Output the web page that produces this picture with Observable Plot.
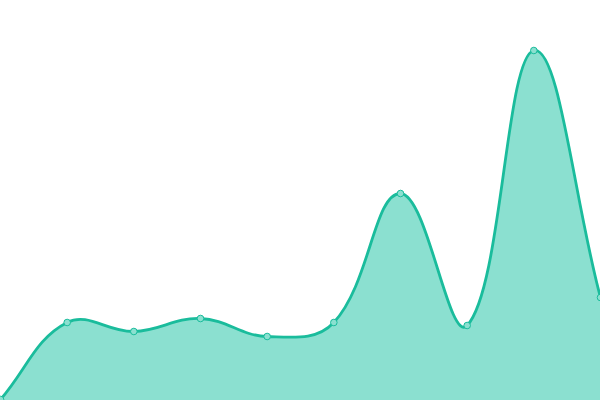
<!DOCTYPE html>
<html><head><meta charset="utf-8">
<script src="https://cdn.jsdelivr.net/npm/d3@7"></script>
<script src="https://cdn.jsdelivr.net/npm/@observablehq/plot@0.6"></script>
<style>body{margin:0;background:#fff}</style>
</head><body><div id="chart"></div>
<script>
const xs = [0,1,2,3,4,5,6,7,8,9];
const values = [1,78,69,82,64,78,207,75,350,103];
const data = xs.map((x,i)=>({x, y: values[i]}));

// Spline curve with tension (bezier control points from neighbouring points)
function splineCurve(context) {
  return {
    _line: undefined,
    areaStart() { this._line = 0; },
    areaEnd() { this._line = NaN; },
    lineStart() { this._pts = []; },
    point(x, y) { this._pts.push([+x, +y]); },
    lineEnd() {
      const p = this._pts, n = p.length, c = context, t = 0.4;
      if (n) {
        if (this._line) c.lineTo(p[0][0], p[0][1]); else c.moveTo(p[0][0], p[0][1]);
        if (n === 2) c.lineTo(p[1][0], p[1][1]);
        else if (n > 2) {
          const cps = p.map((cur, i) => {
            const prev = p[i - 1] || cur, next = p[i + 1] || cur;
            const d01 = Math.hypot(cur[0] - prev[0], cur[1] - prev[1]);
            const d12 = Math.hypot(next[0] - cur[0], next[1] - cur[1]);
            let s01 = d01 / (d01 + d12), s12 = d12 / (d01 + d12);
            if (!isFinite(s01)) s01 = 0; if (!isFinite(s12)) s12 = 0;
            const fa = t * s01, fb = t * s12;
            const clampX = v => Math.max(0, Math.min(600, v));
            const clampY = v => Math.max(0, Math.min(400, v));
            return {
              prev: [clampX(cur[0] - fa * (next[0] - prev[0])), clampY(cur[1] - fa * (next[1] - prev[1]))],
              next: [clampX(cur[0] + fb * (next[0] - prev[0])), clampY(cur[1] + fb * (next[1] - prev[1]))]
            };
          });
          for (let i = 0; i < n - 1; i++) {
            c.bezierCurveTo(cps[i].next[0], cps[i].next[1], cps[i + 1].prev[0], cps[i + 1].prev[1], p[i + 1][0], p[i + 1][1]);
          }
        }
      }
      if (this._line || (this._line !== 0 && n === 1)) c.closePath();
      this._line = 1 - this._line;
    }
  };
}

const chart = Plot.plot({
  width: 600, height: 400,
  margin: 0,
  x: {domain: [0,9], range: [0,600], axis: null},
  y: {domain: [0,400], range: [400,0], axis: null},
  marks: [
    Plot.areaY(data, {x:"x", y:"y", curve: splineCurve, fill:"#8be0d0"}),
    Plot.lineY(data, {x:"x", y:"y", curve: splineCurve, stroke:"#1abc9c", strokeWidth:2.8}),
    Plot.dot(data, {x:"x", y:"y", r:3.3, fill:"#8be0d0", stroke:"#1abc9c", strokeWidth:1})
  ]
});
document.getElementById("chart").append(chart);
</script></body></html>
